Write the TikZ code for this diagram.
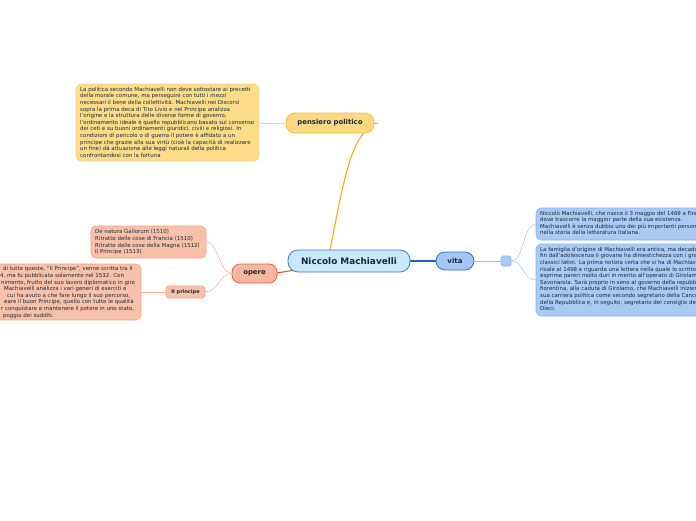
\documentclass[tikz,border=0pt]{standalone}
\usepackage{fontspec}
\setmainfont{DejaVu Sans}
\definecolor{cfill}{HTML}{C8E8FB}
\definecolor{cdraw}{HTML}{3A7BD5}
\definecolor{vfill}{HTML}{A3C8F7}
\definecolor{vdraw}{HTML}{2E6FD0}
\definecolor{bfill}{HTML}{A8CAF5}
\definecolor{bdraw}{HTML}{85B2F0}
\definecolor{pfill}{HTML}{FDD882}
\definecolor{pdraw}{HTML}{F5BE3C}
\definecolor{pbfill}{HTML}{FDDC89}
\definecolor{pbdraw}{HTML}{FAD27A}
\definecolor{ofill}{HTML}{F8B6A0}
\definecolor{odraw}{HTML}{E8603C}
\definecolor{obfill}{HTML}{F9C0AA}
\definecolor{obdraw}{HTML}{F39F82}
\definecolor{txt}{HTML}{1A2A3A}
\definecolor{lpens}{HTML}{F5A820}
\definecolor{lopere}{HTML}{E8552F}
\definecolor{lvita}{HTML}{1F5FBF}
\definecolor{lvita2}{HTML}{9CC0EE}
\definecolor{lopb}{HTML}{F5A890}
\definecolor{lpb}{HTML}{F9D77A}
\newcommand{\boxfont}{\fontsize{5.45}{6.6}\selectfont\setlength{\lineskiplimit}{-5pt}}
\tikzset{
  topic/.style={draw, rounded corners=#1, text=txt, inner sep=0pt},
  smalltxt/.style={font=\boxfont, text=txt, align=left, inner sep=0pt, anchor=north west},
  conn/.style={line width=#1},
}
\begin{document}
\begin{tikzpicture}[x=1pt,y=-1pt]
\useasboundingbox (0,0) rectangle (696,520);
\clip (0,0) rectangle (696,520);
% pensiero politico
\draw[conn=1.1, draw=lpens] (330,250) .. controls (340,200) and (348,150) .. (364,133);
\draw[conn=0.8, draw=lpens] (374,123) -- (378,123);
\node[topic=9, fill=pfill, draw=pdraw, line width=0.8, minimum width=88, minimum height=20, font=\fontsize{6.9}{8}\selectfont\bfseries] (pens) at (330,123) {pensiero politico};
\draw[conn=0.6, draw=lpb] (pens.west) -- (259,123);
\filldraw[fill=pbfill, draw=pbdraw, line width=0.6, rounded corners=5] (76,84) rectangle (259,161);
\node[smalltxt] (ptext) at (80,87) {La politica secondo Machiavelli non deve sottostare ai precetti\\della morale comune, ma perseguire con tutti i mezzi\\necessari il bene della collettività. Machiavelli nei Discorsi\\sopra la prima deca di Tito Livio e nel Principe analizza\\l'origine e la struttura delle diverse forme di governo,\\l'ordinamento ideale è quello repubblicano basato sul consenso\\dei ceti e su buoni ordinamenti giuridici, civili e religiosi. In\\condizioni di pericolo o di guerra il potere è affidato a un\\principe che grazie alla sua virtù (cioè la capacità di realizzare\\un fine) dà attuazione alle leggi naturali della politica\\confrontandosi con la fortuna};
% opere
\draw[conn=1.1, draw=lopere] (295,270) -- (277,273);
\node[topic=8, fill=ofill, draw=odraw, line width=0.8, minimum width=45, minimum height=19, font=\fontsize{6.9}{8}\selectfont\bfseries] (opere) at (254.5,273.5) {opere};
\draw[conn=0.5, draw=lopb] (opere.west) .. controls (220,273) and (218,243) .. (206,241);
\draw[conn=0.5, draw=lopb] (opere.west) .. controls (220,273) and (218,292) .. (205,292);
\filldraw[fill=obfill, draw=obdraw, line width=0.6, rounded corners=5] (91,226) rectangle (206,258);
\node[smalltxt] (otext) at (95,229.5) {De natura Gallorum (1510)\\Ritratto delle cose di Francia (1510)\\Ritratto delle cose della Magna (1512)\\Il Principe (1513)};
\node[topic=3, fill=obfill, draw=obdraw, line width=0.6, minimum width=39, minimum height=12, font=\fontsize{5}{6}\selectfont\bfseries] (princ) at (185.5,292) {Il principe};
\draw[conn=0.5, draw=lopb] (princ.west) -- (141,292);
\filldraw[fill=obfill, draw=obdraw, line width=0.6, rounded corners=5] (-20,264) rectangle (141,320);
\node[smalltxt] (prtext) at (0,266.5) {\hspace*{3pt}di tutte queste, ``Il Principe'', venne scritta tra il\\4, ma fu pubblicata solamente nel 1532. Con\\\hspace*{1pt}nimento, frutto del suo lavoro diplomatico in giro\\\hspace*{4pt}Machiavelli analizza i vari generi di eserciti e\\\hspace*{7pt}cui ha avuto a che fare lungo il suo percorso,\\\hspace*{4pt}eare il buon Principe, quello con tutte le qualità\\\hspace*{1pt}r conquistare e mantenere il potere in uno stato,\\\hspace*{3pt}poggio dei sudditi.};
% vita
\draw[conn=1.2, draw=lvita] (405,261) -- (436,261);
\node[topic=9, fill=vfill, draw=vdraw, line width=0.8, minimum width=38, minimum height=18, font=\fontsize{7}{8}\selectfont\bfseries] (vita) at (455,261) {vita};
\node[draw=bdraw, fill=bfill, rounded corners=1.5, minimum width=10, minimum height=10, inner sep=0pt, line width=0.6] (sq) at (506,261) {};
\draw[conn=0.7, draw=lvita2] (vita.east) -- (sq.west);
\draw[conn=0.5, draw=lvita2] (sq.east) .. controls (524,261) and (522,226) .. (536,224);
\draw[conn=0.5, draw=lvita2] (sq.east) .. controls (524,261) and (522,280) .. (536,280);
\filldraw[fill=bfill, draw=bdraw, line width=0.6, rounded corners=5] (536,208) rectangle (720,240);
\node[smalltxt] (vtext1) at (540,210.5) {Niccolò Machiavelli, che nasce il 3 maggio del 1469 a Firenze,\\dove trascorre la maggior parte della sua esistenza.\\Machiavelli è senza dubbio uno dei più importanti personaggi\\nella storia della letteratura italiana.};
\filldraw[fill=bfill, draw=bdraw, line width=0.6, rounded corners=5] (536,244) rectangle (720,316);
\node[smalltxt] (vtext2) at (540,247) {La famiglia d'origine di Machiavelli era antica, ma decaduta.\\fin dall'adolescenza il giovane ha dimestichezza con i grandi\\classici latini. La prima notizia certa che si ha di Machiavelli\\risale al 1498 e riguarda una lettera nella quale lo scrittore\\esprime pareri molto duri in merito all'operato di Girolamo\\Savonarola. Sarà proprio in seno al governo della repubblica\\fiorentina, alla caduta di Girolamo, che Machiavelli inizierà la\\sua carriera politica come secondo segretario della Cancelleria\\della Repubblica e, in seguito, segretario del consiglio dei\\Dieci.};
% central
\node[topic=10, fill=cfill, draw=cdraw, line width=0.8, minimum width=122, minimum height=22, font=\fontsize{8.9}{10}\selectfont\bfseries] (center) at (349,261) {Niccolo Machiavelli};
\end{tikzpicture}
\end{document}
